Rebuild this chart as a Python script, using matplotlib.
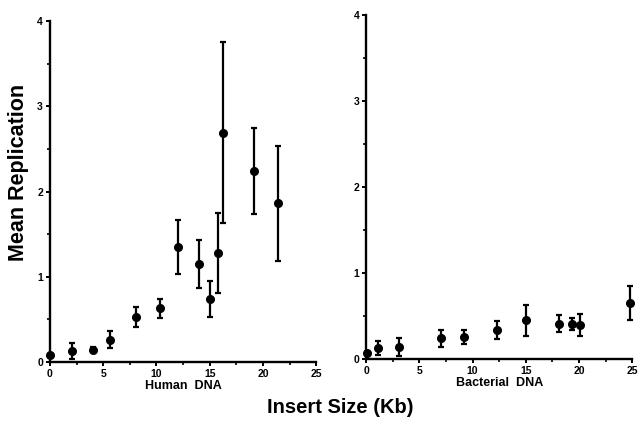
import matplotlib
matplotlib.use("Agg")
import matplotlib.pyplot as plt
from matplotlib.ticker import MultipleLocator

plt.rcParams['font.family'] = ['Liberation Sans', 'DejaVu Sans']
plt.rcParams['font.weight'] = 'bold'

# Human DNA inserts
human_size = [0.0, 2.1, 4.0, 5.6, 8.1, 10.3, 12.0, 14.0, 15.0, 15.8, 16.25, 19.2, 21.4]
human_mean = [0.08, 0.13, 0.145, 0.26, 0.53, 0.63, 1.35, 1.15, 0.74, 1.28, 2.69, 2.24, 1.86]
human_err = [0.0, 0.09, 0.03, 0.1, 0.115, 0.11, 0.32, 0.28, 0.21, 0.47, 1.06, 0.5, 0.67]

# Bacterial DNA inserts
bact_size = [0.1, 1.15, 3.1, 7.0, 9.2, 12.3, 15.0, 18.1, 19.35, 20.05, 24.75]
bact_mean = [0.07, 0.13, 0.14, 0.24, 0.26, 0.34, 0.45, 0.41, 0.41, 0.395, 0.65]
bact_err = [0.0, 0.085, 0.1, 0.1, 0.08, 0.105, 0.18, 0.1, 0.07, 0.125, 0.2]

fig = plt.figure(figsize=(6.4, 4.21), dpi=100)
ax1 = fig.add_axes([0.078, 0.140, 0.416, 0.810])
ax2 = fig.add_axes([0.572, 0.147, 0.416, 0.817])


def style(ax, label):
    ax.set_xlim(0, 25)
    ax.set_ylim(0, 4)
    for s in ['top', 'right']:
        ax.spines[s].set_visible(False)
    for s in ['left', 'bottom']:
        ax.spines[s].set_linewidth(1.7)
    ax.xaxis.set_major_locator(MultipleLocator(5))
    ax.xaxis.set_minor_locator(MultipleLocator(2.5))
    ax.yaxis.set_major_locator(MultipleLocator(1))
    ax.yaxis.set_minor_locator(MultipleLocator(0.5))
    ax.tick_params(which='major', length=3, width=1.4, labelsize=7.5, pad=2)
    ax.tick_params(which='minor', length=2, width=1.2)
    ax.set_xlabel(label, fontsize=9, fontweight='bold', labelpad=1)


ax1.errorbar(human_size, human_mean, yerr=human_err, fmt='o', color='black',
             ms=5.5, elinewidth=1.6, capsize=2.5, capthick=1.6, clip_on=False)
ax2.errorbar(bact_size, bact_mean, yerr=bact_err, fmt='o', color='black',
             ms=5.5, elinewidth=1.6, capsize=2.5, capthick=1.6, clip_on=False)

style(ax1, 'Human  DNA')
style(ax2, 'Bacterial  DNA')

ax1.set_ylabel('Mean Replication', fontsize=15.5, fontweight='bold')
ax1.yaxis.set_label_coords(-0.08, 0.555)
fig.text(0.532, 0.02, 'Insert Size (Kb)', fontsize=14.5, fontweight='bold', ha='center')

fig.savefig('out.png', dpi=100)
